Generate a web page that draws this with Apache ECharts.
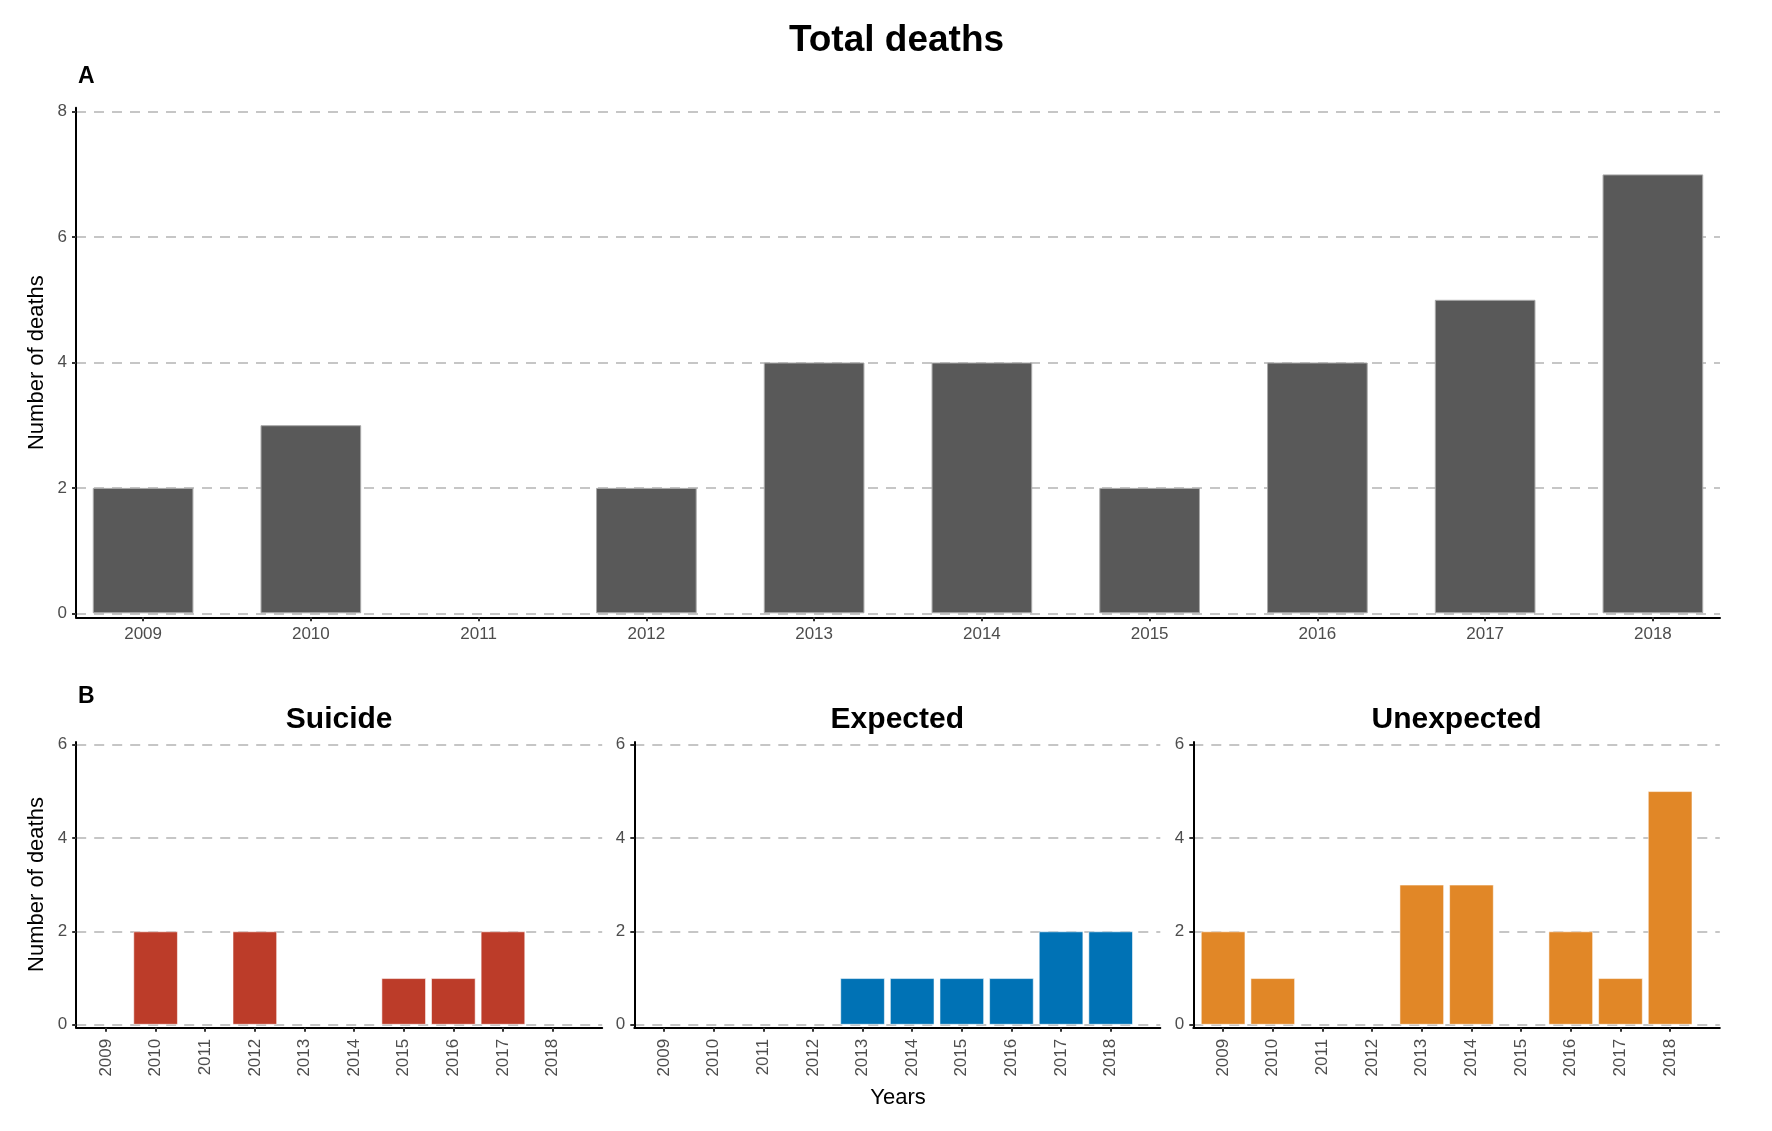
<!DOCTYPE html>
<html><head><meta charset="utf-8">
<script src="https://cdn.jsdelivr.net/npm/echarts@6/dist/echarts.min.js"></script>
<style>html,body{margin:0;padding:0;background:#fff}#c{width:1772px;height:1131px}</style>
</head><body><div id="c"></div>
<script>
// ---- data ----
const years = [2009, 2010, 2011, 2012, 2013, 2014, 2015, 2016, 2017, 2018];
const totalDeaths = [2, 3, 0, 2, 4, 4, 2, 4, 5, 7];
const suicideDeaths = [0, 2, 0, 2, 0, 0, 1, 1, 2, 0];
const expectedDeaths = [0, 0, 0, 0, 1, 1, 1, 1, 2, 2];
const unexpectedDeaths = [2, 1, 0, 0, 3, 3, 0, 2, 1, 5];
const topYTicks = [0, 2, 4, 6, 8];
const bottomYTicks = [0, 2, 4, 6];
const panelTitles = ['Suicide', 'Expected', 'Unexpected'];
const mainTitle = 'Total deaths';
const yTitle = 'Number of deaths';
const xTitle = 'Years';

// ---- style ----
const FONT = '"Liberation Sans", Arial, sans-serif';
const colors = ['#595959', '#BC3C29', '#0072B5', '#E18727'];
const gridStyle = {show: true, lineStyle: {color: '#c6c6c6', width: 2, type: [10, 8]}};

const chart = echarts.init(document.getElementById('c'), null, {renderer: 'canvas'});

function toData(vals) {
  return years.map((y, k) => [y, vals[k] === 0 ? '-' : vals[k]]);
}

const panels = [
  {left: 76, top: 107.7, width: 1644, height: 509.6, xmin: 2008.6, xmax: 2018.4, ymin: -0.064, ymax: 8.064,
   ticks: topYTicks, vals: totalDeaths, color: colors[0], border: '#a9a9a9', bw: '60%', rotate: 0},
  {left: 76.2, top: 742, width: 526, height: 285.8, xmin: 2008.4, xmax: 2019, ymin: -0.064, ymax: 6.05,
   ticks: bottomYTicks, vals: suicideDeaths, color: colors[1], border: 'rgba(255,255,255,0.55)', bw: '90%', rotate: 90},
  {left: 634.3, top: 742, width: 526, height: 285.8, xmin: 2008.4, xmax: 2019, ymin: -0.064, ymax: 6.05,
   ticks: bottomYTicks, vals: expectedDeaths, color: colors[2], border: 'rgba(255,255,255,0.55)', bw: '90%', rotate: 90},
  {left: 1193.3, top: 742, width: 526.5, height: 285.8, xmin: 2008.4, xmax: 2019, ymin: -0.064, ymax: 6.05,
   ticks: bottomYTicks, vals: unexpectedDeaths, color: colors[3], border: 'rgba(255,255,255,0.55)', bw: '90%', rotate: 90}
];

const grid = [], xAxis = [], yAxis = [], series = [];
panels.forEach((p, i) => {
  grid.push({left: p.left, top: p.top, width: p.width, height: p.height, containLabel: false});
  xAxis.push({
    type: 'value', gridIndex: i, min: p.xmin, max: p.xmax,
    splitLine: {show: false},
    axisLine: {show: true, onZero: false, lineStyle: {color: '#000', width: 2}},
    axisTick: {show: true, customValues: years, length: 4, lineStyle: {color: '#333', width: 2}},
    axisLabel: {show: true, customValues: years, margin: p.rotate ? 11 : 9, rotate: p.rotate,
      fontSize: 17, color: '#4d4d4d', fontFamily: FONT, formatter: v => String(v)}
  });
  yAxis.push({
    type: 'value', gridIndex: i, min: p.ymin, max: p.ymax,
    splitLine: gridStyle,
    axisLine: {show: true, onZero: false, lineStyle: {color: '#000', width: 2}},
    axisTick: {show: true, customValues: p.ticks, length: 4, lineStyle: {color: '#333', width: 2}},
    axisLabel: {show: true, customValues: p.ticks, margin: 9, fontSize: 17, color: '#4d4d4d',
      fontFamily: FONT, formatter: v => String(v)}
  });
  series.push({
    type: 'bar', xAxisIndex: i, yAxisIndex: i, data: toData(p.vals), barWidth: p.bw,
    itemStyle: {color: p.color, borderColor: p.border, borderWidth: 1},
    emphasis: {disabled: true}, animation: false
  });
});

function txt(text, x, y, size, bold, align, rot) {
  return {type: 'text', x: x, y: y, rotation: rot || 0, silent: true,
    style: {text: text, font: (bold ? 'bold ' : '') + size + 'px ' + FONT, fill: '#000',
      align: align || 'center', verticalAlign: 'middle'}};
}

const graphic = [
  txt(mainTitle, 896.5, 41, 37, true),
  txt('A', 78, 77, 23, true, 'left'),
  txt('B', 78, 696.5, 23, true, 'left'),
  txt(panelTitles[0], 339.2, 720, 30, true),
  txt(panelTitles[1], 897.3, 720, 30, true),
  txt(panelTitles[2], 1456.5, 720, 30, true),
  txt(yTitle, 37, 362.6, 22, false, 'center', Math.PI / 2),
  txt(yTitle, 37, 884.5, 22, false, 'center', Math.PI / 2),
  txt(xTitle, 898, 1097.5, 22, false)
];

chart.setOption({
  animation: false,
  backgroundColor: '#fff',
  grid: grid, xAxis: xAxis, yAxis: yAxis, series: series,
  graphic: graphic
});
</script></body></html>
